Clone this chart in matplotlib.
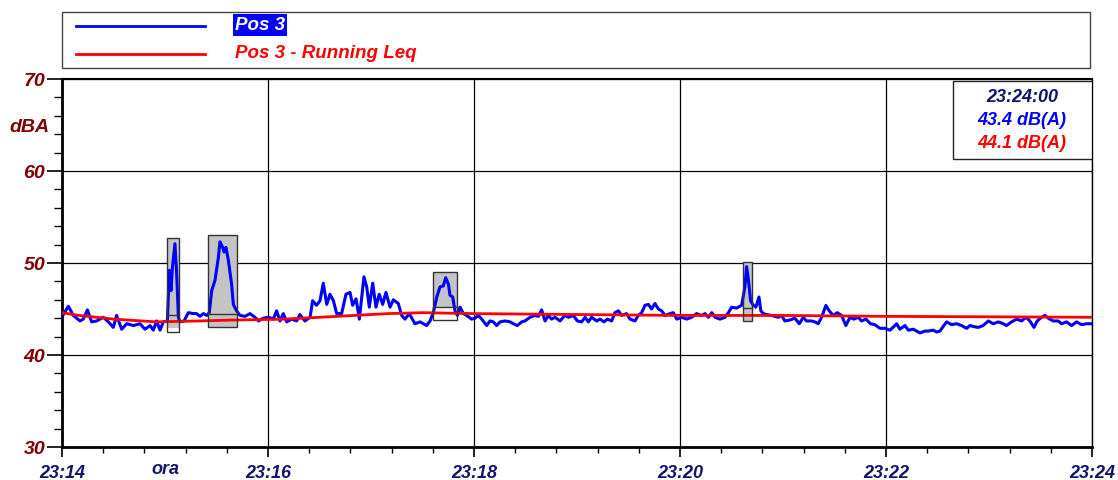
import matplotlib
matplotlib.use('Agg')
import matplotlib.pyplot as plt
from matplotlib.patches import Rectangle
from matplotlib.lines import Line2D
from matplotlib.ticker import MultipleLocator

# time in seconds after 23:14:00, level in dB(A)
pos3_t = [0.8, 3.7, 6.6, 10.5, 12.4, 14.8, 17.3, 20.2, 24.1, 27.0, 29.9, 31.8, 34.8, 37.7,
          41.6, 45.4, 48.3, 51.3, 53.2, 55.1, 57.1, 59.0, 61.4, 62.5, 63.5, 64.3, 65.8, 66.8,
          67.8, 68.7, 71.1, 73.6, 76.5, 78.4, 80.4, 82.3, 84.3, 85.8, 87.2, 89.1, 91.1, 92.0,
          93.6, 94.4, 95.5, 96.9, 98.8, 99.8, 101.7, 103.7, 106.6, 109.5, 112.4, 114.4, 117.3,
          120.2, 123.1, 125.0, 127.0, 128.9, 130.9, 133.8, 136.7, 138.6, 141.5, 144.5, 146.0,
          148.3, 150.3, 152.2, 154.2, 156.1, 158.1, 160.0, 162.9, 165.4, 167.8, 169.3, 171.3,
          173.2, 175.9, 177.5, 179.0, 181.0, 182.9, 184.8, 186.8, 188.7, 191.1, 193.0, 195.9,
          197.9, 199.8, 202.3,
          205.6, 208.6, 210.5, 212.4, 214.4, 216.3, 218.3, 220.2, 222.1, 223.5, 225.1, 226.0,
          227.6, 228.9, 230.3, 231.9, 233.8, 235.7, 238.6, 240.6, 242.5, 244.5, 247.4, 249.3,
          251.3, 253.2, 255.2, 258.1, 261.0, 262.9, 265.2, 267.8, 269.7, 272.6, 275.5, 277.5,
          279.4, 281.4, 283.3, 285.2, 287.2, 290.1, 293.0, 295.0, 297.9, 300.2, 302.7, 304.7,
          306.6, 308.5, 311.5, 313.4, 315.7, 317.7, 320.2, 322.1, 324.1, 326.0, 328.9, 330.9,
          333.8, 335.7, 337.7, 339.6, 341.6, 343.5, 345.4, 347.4, 349.3, 351.3, 354.2, 356.1,
          358.1, 361.0, 363.9, 366.8, 369.7, 372.6, 374.6, 376.5, 378.5, 380.4, 383.3, 386.2,
          388.2, 390.1, 393.0, 395.9,
          397.8, 398.8, 399.9, 401.1, 402.7, 404.2, 406.0, 407.1, 408.5, 410.4, 413.3, 415.3,
          417.2, 419.2, 421.1, 424.0, 426.9, 429.5, 431.8, 433.7, 436.6, 438.6, 440.5, 442.5,
          445.0, 446.9, 449.3, 451.6, 454.1, 456.6, 459.0, 461.3, 463.8, 465.8, 468.3, 471.0,
          473.5, 476.5, 479.4, 482.3, 485.2, 486.2, 488.1, 491.0, 493.0, 495.9, 497.8, 499.8,
          502.7, 504.6, 507.5, 509.5, 511.4, 513.3, 515.3, 518.2, 521.1, 524.0, 527.0, 528.9,
          530.8, 533.7, 536.6, 539.6, 542.5, 545.4, 548.3, 550.2, 553.1, 556.1, 559.0, 561.5,
          563.8, 566.2, 568.1, 570.6, 572.6, 574.5, 577.4, 580.3, 582.3, 585.2, 588.1, 591.0,
          593.9, 596.8, 599.7]
pos3_db = [44.4, 45.3, 44.3, 43.7, 43.9, 44.9, 43.6, 43.7, 44.1, 43.6, 43.0, 44.3, 42.8, 43.4,
           43.2, 43.4, 42.8, 43.2, 42.7, 43.7, 42.7, 43.6, 43.7, 49.2, 47.0, 49.5, 52.1, 48.8,
           44.1, 43.6, 43.7, 44.6, 44.5, 44.5, 44.2, 44.5, 44.3, 44.6, 47.0, 48.1, 50.6, 52.3,
           51.7, 51.2, 51.7, 50.3, 47.7, 45.5, 44.8, 44.3, 44.2, 44.5, 44.1, 43.7, 44.0,
           44.1, 43.9, 44.8, 43.7, 44.5, 43.6, 43.9, 43.7, 44.4, 43.7, 44.1, 45.9,
           45.4, 45.9, 47.8, 45.5, 46.6, 45.9, 44.5, 44.5, 46.6, 46.8, 45.4, 46.1,
           43.9, 48.5, 47.4, 45.2, 47.8, 45.2, 46.6, 45.5, 46.8, 45.2, 46.0, 45.6,
           44.3, 43.9, 44.5,
           43.4, 43.6, 43.4, 43.2, 43.7, 44.6, 46.3, 47.4, 47.5, 48.4, 47.7, 46.5,
           46.3, 44.8, 44.3, 45.2, 44.5, 44.3, 43.9, 44.0, 44.3, 43.9, 43.2, 43.7,
           43.6, 43.2, 43.6, 43.7, 43.6, 43.4, 43.2, 43.6, 43.7, 44.1, 44.3, 44.2,
           44.9, 43.7, 44.3, 43.9, 44.1, 43.7, 44.3, 44.1, 44.3, 43.7, 43.6, 44.1,
           43.6, 44.1, 43.7, 43.9, 43.6, 43.9, 43.7, 44.6, 44.8, 44.3, 44.5, 43.9,
           43.7, 44.3, 44.6, 45.4, 45.5, 45.0, 45.6, 45.0, 44.8, 44.3, 44.5, 44.6,
           43.9, 44.1, 43.9, 44.1, 44.5, 44.3, 44.5, 44.1, 44.6, 44.1, 43.9, 44.1,
           44.6, 45.2, 45.1, 45.4,
           47.4, 49.6, 48.1, 45.9, 45.4, 45.2, 46.3, 44.8, 44.5, 44.4, 44.3, 44.2,
           44.1, 44.3, 43.7, 43.8, 44.0, 43.4, 44.1, 43.7, 43.7, 43.6, 43.4, 44.1,
           45.4, 44.8, 44.3, 44.6, 44.3, 43.2, 44.1, 43.9, 44.1, 43.7, 43.9, 43.4,
           43.3, 42.9, 42.9, 42.7, 43.2, 43.4, 42.8, 43.2, 42.7, 42.8, 42.6, 42.4,
           42.6, 42.6, 42.7, 42.5, 42.6, 43.1, 43.6, 43.3, 43.4, 43.2, 42.9, 43.2,
           43.1, 43.0, 43.2, 43.7, 43.4, 43.6, 43.4, 43.2, 43.6, 43.9, 43.7, 44.1,
           43.7, 43.0, 43.7, 44.1, 44.3, 44.0, 43.7, 43.7, 43.4, 43.6, 43.2, 43.6,
           43.3, 43.4, 43.4]

leq_t = [0, 10, 30, 55, 80, 100, 130, 160, 190, 210, 240, 300, 360, 420, 480, 540, 600]
leq_db = [44.6, 44.3, 43.9, 43.6, 43.7, 43.8, 43.9, 44.2, 44.5, 44.6, 44.5, 44.4, 44.3,
          44.3, 44.2, 44.15, 44.1]

# marked events: start, end, top, leq level, bottom of grey fill, bottom
ev_start = [61.2, 85.0, 216.0, 396.7]
ev_end = [68.2, 102.0, 230.0, 402.0]
ev_top = [52.7, 53.0, 49.0, 50.1]
ev_leq = [44.35, 44.45, 45.2, 45.1]
ev_fill_low = [42.9, 43.0, 45.2, 43.7]
ev_bottom = [42.5, 43.0, 43.8, 43.7]

tick_sec = [0, 120, 240, 360, 480, 600]
tick_labels = ['23:14', '23:16', '23:18', '23:20', '23:22', '23:24']
cursor_time = '23:24:00'
cursor_pos3 = '43.4 dB(A)'
cursor_leq = '44.1 dB(A)'

W, H = 1118, 481
font = 'Liberation Sans'
dark_red = '#800000'
navy = '#141470'

fig = plt.figure(figsize=(W / 100, H / 100), dpi=100)
ax = fig.add_axes([62 / W, 1 - 448 / H, 1030 / W, 368 / H])

# event boxes
for s, e, top, lv, low, bot in zip(ev_start, ev_end, ev_top, ev_leq, ev_fill_low, ev_bottom):
    ax.add_patch(Rectangle((s, bot), e - s, top - bot, facecolor='white',
                           edgecolor='none', zorder=2))
    ax.add_patch(Rectangle((s, low), e - s, top - low, facecolor='#c4c4c4',
                           edgecolor='none', zorder=2))
    ax.add_patch(Rectangle((s, bot), e - s, top - bot, facecolor='none',
                           edgecolor='#333333', lw=1.0, zorder=4))
    ax.plot([s, e], [lv, lv], color='#333333', lw=1.0, zorder=4)

ax.plot(pos3_t, pos3_db, color='#0000ff', lw=2.2, zorder=3)
ax.plot(leq_t, leq_db, color='#ff0000', lw=2.0, zorder=3)

ax.set_xlim(0, 600)
ax.set_ylim(30, 70)
ax.set_xticks(tick_sec)
ax.set_xticklabels(tick_labels)
ax.xaxis.set_minor_locator(MultipleLocator(24))
ax.yaxis.set_major_locator(MultipleLocator(10))
ax.yaxis.set_minor_locator(MultipleLocator(2))
ax.grid(True, which='major', color='black', lw=0.9, zorder=1)

ax.tick_params(axis='y', which='major', length=11, width=1.2, pad=1,
               labelsize=14, labelcolor=dark_red)
ax.tick_params(axis='y', which='minor', length=6, width=1.0)
ax.tick_params(axis='x', which='major', length=7.5, width=1.2, pad=5,
               labelsize=13, labelcolor=navy)
ax.tick_params(axis='x', which='minor', length=4.5, width=1.0)
for lab in ax.get_xticklabels() + ax.get_yticklabels():
    lab.set_fontfamily(font)
    lab.set_fontweight('bold')
    lab.set_fontstyle('italic')

ax.spines['left'].set_linewidth(2.0)
ax.spines['bottom'].set_linewidth(2.0)
ax.spines['top'].set_linewidth(1.5)
ax.spines['right'].set_linewidth(1.0)

txt = dict(family=font, weight='bold', style='italic')
fig.text(30 / W, 1 - 127 / H, 'dBA', color=dark_red, fontsize=14,
         ha='center', va='center', **txt)
fig.text(165 / W, 1 - 470 / H, 'ora', color=navy, fontsize=13,
         ha='center', va='center', **txt)

# cursor readout box
ax.add_patch(Rectangle(((953 - 62) / 1030, (448 - 160) / 368), (1092 - 953) / 1030,
                       (160 - 82) / 368, transform=ax.transAxes, facecolor='white',
                       edgecolor='#222222', lw=1.0, zorder=5))
bx = (1022 - 62) / 1030
ax.text(bx, (448 - 98) / 368, cursor_time, transform=ax.transAxes, color=navy,
        fontsize=13, ha='center', va='center', zorder=6, **txt)
ax.text(bx, (448 - 121) / 368, cursor_pos3, transform=ax.transAxes, color='#0000ff',
        fontsize=13, ha='center', va='center', zorder=6, **txt)
ax.text(bx, (448 - 144) / 368, cursor_leq, transform=ax.transAxes, color='#ff0000',
        fontsize=13, ha='center', va='center', zorder=6, **txt)

# legend panel
fig.add_artist(Rectangle((62 / W, 1 - 69 / H), (1090 - 62) / W, 56 / H,
                         transform=fig.transFigure, facecolor='white',
                         edgecolor='#444444', lw=1.0))
fig.add_artist(Line2D([76 / W, 205 / W], [1 - 27 / H, 1 - 27 / H],
                      transform=fig.transFigure, color='#0000ff', lw=2.0))
fig.add_artist(Line2D([76 / W, 205 / W], [1 - 55 / H, 1 - 55 / H],
                      transform=fig.transFigure, color='#ff0000', lw=2.0))
fig.text(235 / W, 1 - 26 / H, 'Pos 3', color='white', fontsize=13.5, va='center',
         bbox=dict(facecolor='#0000ff', edgecolor='none', pad=1.5), **txt)
fig.text(235 / W, 1 - 54 / H, 'Pos 3 - Running Leq', color='#ff0000', fontsize=13.5,
         va='center', **txt)

fig.savefig('out.png', dpi=100)
plt.close(fig)
